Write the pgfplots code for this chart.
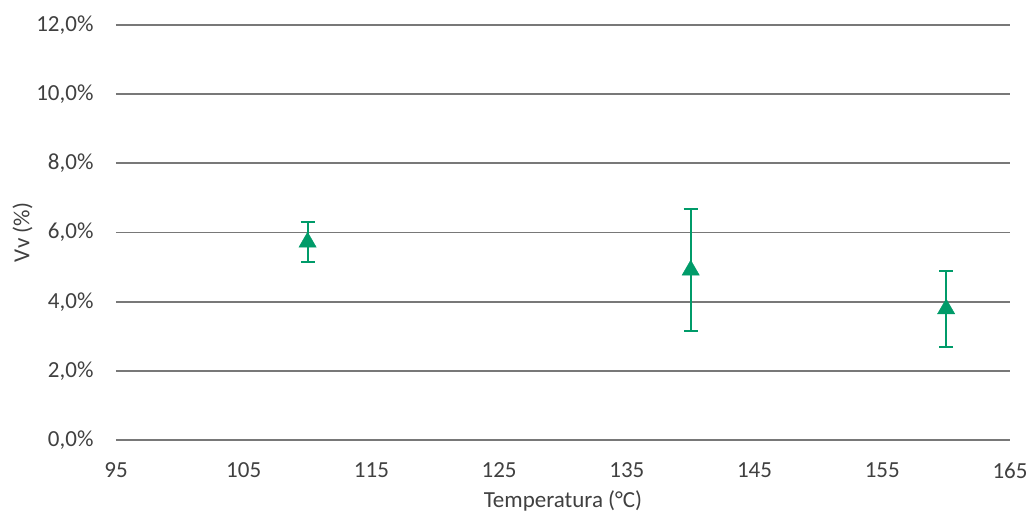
\documentclass[border=0pt]{standalone}
\usepackage{pgfplots}
\pgfplotsset{compat=1.18}
\usepackage{fontspec}
\setmainfont{Carlito}
\definecolor{txt}{RGB}{64,64,64}
\definecolor{grd}{RGB}{120,120,120}
\definecolor{grn}{RGB}{0,155,105}
\begin{document}
\begin{tikzpicture}[x=1pt,y=1pt]
\useasboundingbox (-116,-76) rectangle (915,440);
\begin{axis}[
  at={(0,0)}, anchor=south west,
  scale only axis, width=894pt, height=415pt,
  xmin=95, xmax=165, ymin=0, ymax=12,
  axis line style={draw=none},
  xtick={95,105,...,165}, ytick={0,2,...,12},
  yticklabels={{0,0\%},{2,0\%},{4,0\%},{6,0\%},{8,0\%},{10,0\%},{12,0\%}},
  major tick length=0pt,
  ymajorgrids, grid style={grd, line width=1.8pt},
  font=\fontsize{23}{27}\selectfont, 
  /pgf/number format/assume math mode=true,
  ticklabel style={txt},
  xticklabel style={yshift=-19pt},
  yticklabel style={xshift=-19pt},
  xlabel={Temperatura (°C)}, ylabel={Vv (\%)},
  label style={txt},
  xlabel style={yshift=-6pt},
  ylabel style={yshift=-3pt},
  clip=false,
]
\addplot[only marks, mark=triangle*, mark size=10pt, color=grn,
  error bars/.cd, y dir=both, y explicit,
  error bar style={line width=2pt, grn},
  error mark options={rotate=90, mark size=7pt, line width=2pt, grn}]
  coordinates {
  (110,5.72) +- (0,0.58)
  (140,4.91) +- (0,1.77)
  (160,3.79) +- (0,1.10)
  };
\end{axis}
\end{tikzpicture}
\end{document}
